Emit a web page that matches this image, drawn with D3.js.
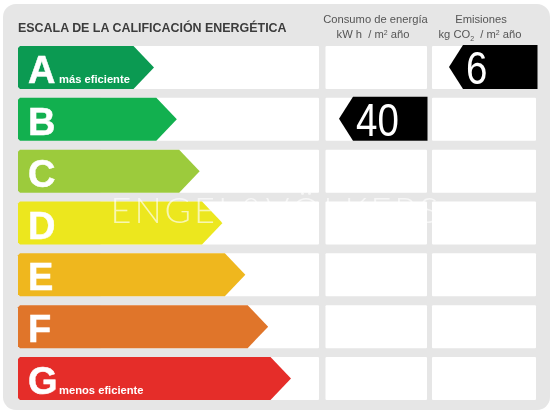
<!DOCTYPE html>
<html>
<head>
<meta charset="utf-8">
<style>
  html, body { margin: 0; padding: 0; background: #fff; }
  svg { display: block; filter: blur(0.35px); }
  text { font-family: "Liberation Sans", Arial, sans-serif; }
</style>
</head>
<body>
<div id="chart"></div>
<script src="https://cdn.jsdelivr.net/npm/d3@7"></script>
<script>
const letters = ['A', 'B', 'C', 'D', 'E', 'F', 'G']
const colors = ['#0b9a52', '#12b04f', '#9ccb3c', '#ece71e', '#efb71e', '#e0752a', '#e52d29']
const notes = ['más eficiente', '', '', '', '', '', 'menos eficiente']
const energyRating = [{ letter: 'B', value: 40 }]
const emissionRating = [{ letter: 'A', value: 6 }]

const width = 555
const height = 412

const svg = d3.select('#chart').append('svg')
  .attr('width', width)
  .attr('height', height)

const y = d3.scaleBand().domain(letters).range([46, 400]).paddingInner(0.17)
const tip = d3.scaleLinear().domain([0, letters.length - 1]).range([154, 291])
const line = d3.line()

// grey panel
svg.append('rect')
  .attr('x', 3).attr('y', 4)
  .attr('width', 547).attr('height', 406)
  .attr('rx', 13)
  .attr('fill', '#e6e6e6')

svg.append('text')
  .attr('x', 18).attr('y', 32)
  .attr('font-size', 12.45).attr('font-weight', 'bold')
  .attr('fill', '#3c3c3c')
  .text('ESCALA DE LA CALIFICACIÓN ENERGÉTICA')

// header of the two value columns
function head(x, yy, txt) {
  return svg.append('text')
    .attr('x', x).attr('y', yy)
    .attr('text-anchor', 'middle')
    .attr('font-size', 11.2)
    .attr('fill', '#555')
    .text(txt)
}
head(375.5, 23, 'Consumo de energía')
head(481, 23, 'Emisiones')

const h1 = head(373, 38, 'kW h  / m')
h1.attr('xml:space', 'preserve')
h1.append('tspan').attr('font-size', 7).attr('dy', -3).text('2')
h1.append('tspan').attr('dy', 3).text(' año')

const h2 = head(480, 38, 'kg CO')
h2.attr('xml:space', 'preserve')
h2.append('tspan').attr('font-size', 7).attr('dy', 3).text('2')
h2.append('tspan').attr('dy', -3).text('  / m')
h2.append('tspan').attr('font-size', 7).attr('dy', -3).text('2')
h2.append('tspan').attr('dy', 3).text(' año')

// white cells behind every row
const cols = [[100, 319], [325.5, 427], [432, 536]]
const rows = svg.append('g').selectAll('g').data(letters).join('g')
cols.forEach(c => {
  rows.append('rect')
    .attr('x', c[0]).attr('y', d => y(d))
    .attr('width', c[1] - c[0]).attr('height', y.bandwidth())
    .attr('rx', 1)
    .attr('fill', '#fff')
})

// the coloured arrows
const slant = 20.5
function arrow(d, i) {
  const t = y(d), b = t + y.bandwidth(), m = (t + b) / 2, tx = tip(i)
  return line([[20, t], [tx - slant, t], [tx, m], [tx - slant, b], [20, b], [18, b - 2], [18, t + 2]]) + 'Z'
}
svg.append('g').selectAll('path').data(letters).join('path')
  .attr('d', arrow)
  .attr('fill', (d, i) => colors[i])

svg.append('g').selectAll('text').data(letters).join('text')
  .attr('x', 28)
  .attr('y', d => y(d) + y.bandwidth() - 6)
  .attr('font-size', 38).attr('font-weight', 'bold')
  .attr('fill', '#fff')
  .attr('stroke', '#fff').attr('stroke-width', 0.5)
  .text(d => d)

svg.append('g').selectAll('text').data(letters).join('text')
  .attr('x', 59)
  .attr('y', d => y(d) + y.bandwidth() - 6)
  .attr('font-size', 11.2).attr('font-weight', 'bold')
  .attr('fill', '#fff')
  .text((d, i) => notes[i])

// black pointers with the rating values
function pointer(data, right) {
  const left = right - 88.5
  const g = svg.append('g')
  g.selectAll('path').data(data).join('path')
    .attr('d', d => {
      const t = y(d.letter) - 1, b = t + y.bandwidth() + 1, m = (t + b) / 2
      return line([[right, t], [left + 14, t], [left, m], [left + 14, b], [right, b]]) + 'Z'
    })
    .attr('fill', '#000')
  // squeezed sideways to get the narrow digits of the original
  g.selectAll('text').data(data).join('text')
    .attr('transform', d => `translate(${left + 17},${y(d.letter) + y.bandwidth() - 5}) scale(0.82,1)`)
    .attr('font-size', 47)
    .attr('fill', '#fff')
    .text(d => d.value)
}
pointer(energyRating, 427.5)
pointer(emissionRating, 537.5)

// watermark
svg.append('text')
  .attr('x', 276).attr('y', 223)
  .attr('text-anchor', 'middle')
  .attr('font-size', 36)
  .attr('letter-spacing', 3)
  .attr('fill', '#fff')
  .attr('fill-opacity', 0.65)
  .style('font-family', 'Lato, sans-serif')
  .style('font-weight', 300)
  .text('ENGEL&VÖLKERS')
</script>
</body>
</html>
